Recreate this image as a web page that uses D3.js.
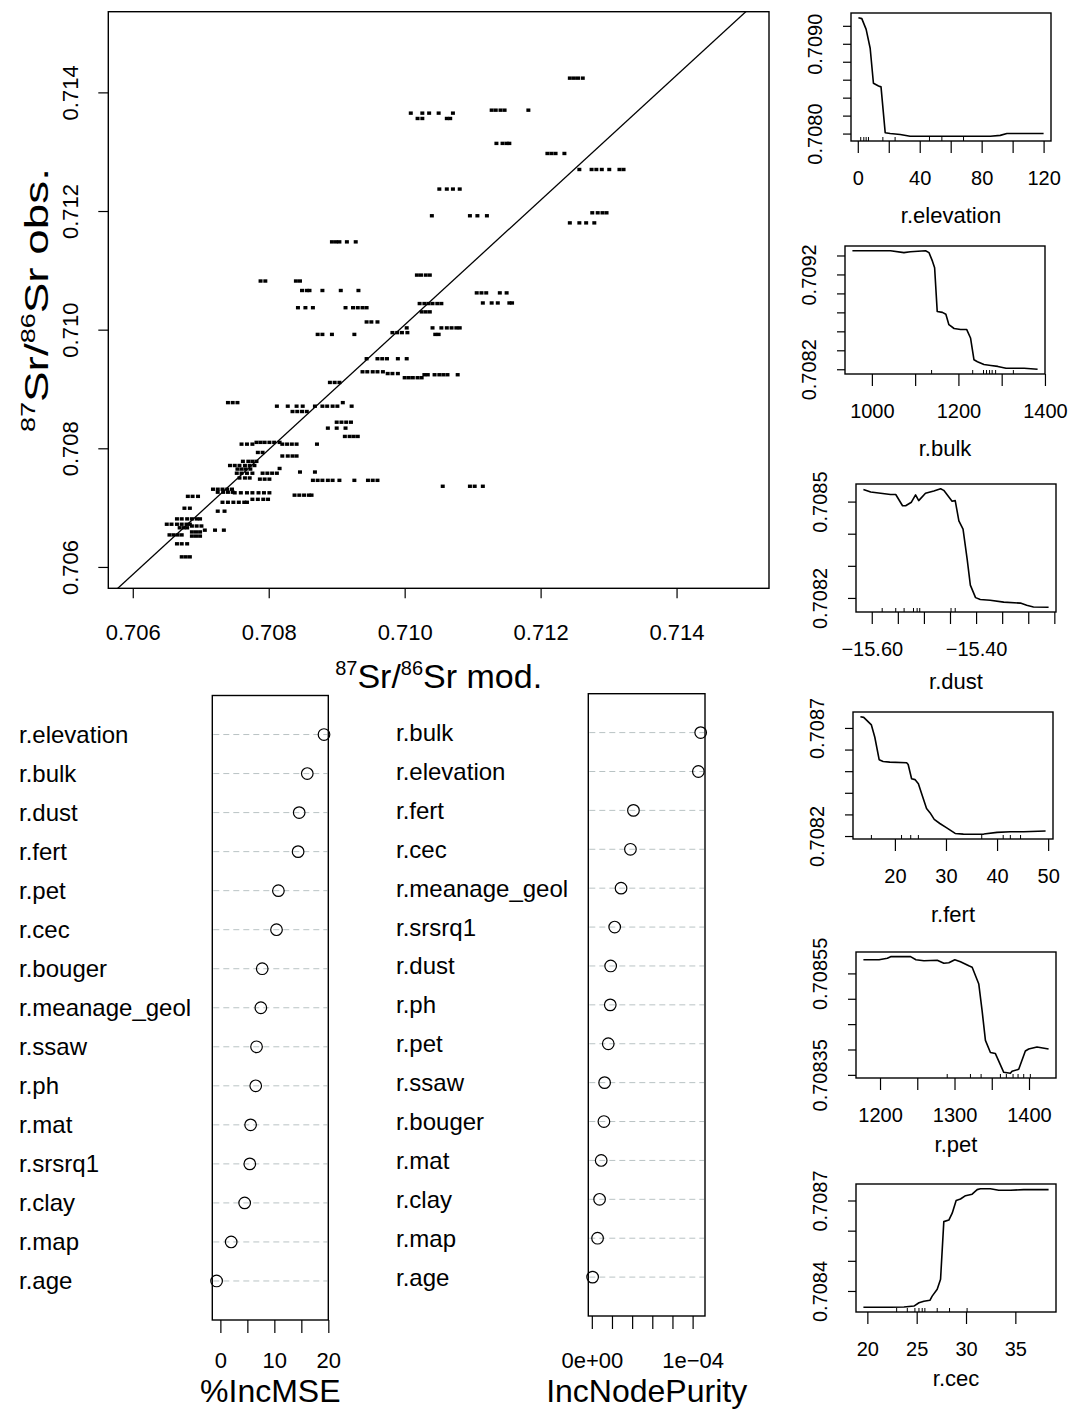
<!DOCTYPE html>
<html>
<head>
<meta charset="utf-8">
<script src="https://cdn.jsdelivr.net/npm/d3@7"></script>
<style>
  body { margin: 0; background: #fff; }
</style>
</head>
<body>
<svg id="chart" width="1068" height="1410"></svg>
<script>
// ---- scatter: observed 87Sr/86Sr and the model predictions for each sample ----
var obsValues = [
  0.71424, 0.71365, 0.71356, 0.71370, 0.71314, 0.71297, 0.71270, 0.71237, 0.71192, 0.71197,
  0.71180, 0.71148, 0.71092, 0.71082, 0.71066, 0.71037, 0.71044, 0.71030, 0.71013, 0.71062,
  0.71045, 0.71003, 0.70992, 0.70992, 0.70995, 0.70951, 0.70929, 0.70926, 0.70919, 0.70924,
  0.70736, 0.70911, 0.70877, 0.70871, 0.70862, 0.70844, 0.70834, 0.70820, 0.70807, 0.70810,
  0.70793, 0.70787, 0.70778, 0.70771, 0.70765, 0.70758, 0.70750, 0.70766, 0.70760, 0.70746,
  0.70748, 0.70721, 0.70731, 0.70726, 0.70725, 0.70714, 0.70709, 0.70719, 0.70694, 0.70699,
  0.70681, 0.70672, 0.70669, 0.70662, 0.70666, 0.70654, 0.70659, 0.70652, 0.70639, 0.70617
];
var modValues = [
  [0.71243, 0.71249, 0.71255, 0.71262],
  [0.71009, 0.71026, 0.71036, 0.71050, 0.71071],
  [0.71019, 0.71026, 0.71062, 0.71067],
  [0.71128, 0.71134, 0.71141, 0.71147, 0.71182],
  [0.71135, 0.71144, 0.71150, 0.71154],
  [0.71210, 0.71216, 0.71222, 0.71235],
  [0.71257, 0.71275, 0.71282, 0.71290, 0.71301, 0.71316, 0.71322],
  [0.71051, 0.71062, 0.71071, 0.71081],
  [0.71040, 0.71096, 0.71107, 0.71121],
  [0.71276, 0.71284, 0.71291, 0.71297],
  [0.71243, 0.71257, 0.71267, 0.71279],
  [0.70893, 0.70899, 0.70904, 0.70915, 0.70928],
  [0.71018, 0.71024, 0.71031, 0.71037],
  [0.70788, 0.70795, 0.70840, 0.70846],
  [0.70849, 0.70856, 0.70860, 0.70879, 0.70906, 0.70932],
  [0.70843, 0.70854, 0.70865, 0.70913, 0.70924, 0.70931, 0.70938, 0.70944],
  [0.71022, 0.71029, 0.71035, 0.71041, 0.71048, 0.71054],
  [0.71025, 0.71031, 0.71037],
  [0.70944, 0.70951, 0.70960],
  [0.71106, 0.71113, 0.71120, 0.71140, 0.71150],
  [0.71115, 0.71128, 0.71137, 0.71154, 0.71158],
  [0.71003, 0.71041, 0.71054, 0.71062, 0.71069, 0.71076, 0.71081],
  [0.71045, 0.71050],
  [0.70872, 0.70879, 0.70893, 0.70926],
  [0.70982, 0.70989, 0.70996, 0.71004],
  [0.70944, 0.70960, 0.70967, 0.70974, 0.70990, 0.71003],
  [0.70938, 0.70945, 0.70953, 0.70960, 0.70968],
  [0.70975, 0.70982, 0.70990],
  [0.71000, 0.71006, 0.71012, 0.71019, 0.71025],
  [0.71029, 0.71034, 0.71044, 0.71051, 0.71057, 0.71063, 0.71078],
  [0.71056, 0.71096, 0.71103, 0.71115],
  [0.70890, 0.70897, 0.70904],
  [0.70740, 0.70747, 0.70754, 0.70909],
  [0.70812, 0.70828, 0.70841, 0.70850, 0.70868, 0.70879, 0.70886, 0.70894, 0.70901, 0.70922],
  [0.70835, 0.70842, 0.70849, 0.70856],
  [0.70900, 0.70907, 0.70914, 0.70921],
  [0.70887, 0.70900, 0.70913],
  [0.70912, 0.70919, 0.70925, 0.70931],
  [0.70760, 0.70768, 0.70776, 0.70820, 0.70827, 0.70834, 0.70841, 0.70871],
  [0.70782, 0.70788, 0.70794, 0.70801, 0.70808, 0.70816],
  [0.70784, 0.70791],
  [0.70820, 0.70828, 0.70835, 0.70841],
  [0.70762, 0.70770, 0.70776, 0.70782],
  [0.70743, 0.70750, 0.70757, 0.70765, 0.70772, 0.70779],
  [0.70754, 0.70760, 0.70766, 0.70773],
  [0.70753, 0.70760, 0.70768, 0.70776, 0.70791, 0.70798, 0.70805, 0.70812],
  [0.70757, 0.70765, 0.70772],
  [0.70816],
  [0.70846, 0.70868],
  [0.70865, 0.70872, 0.70879, 0.70887, 0.70894, 0.70904, 0.70926, 0.70946, 0.70953, 0.70960],
  [0.70787, 0.70794, 0.70801],
  [0.70838, 0.70845, 0.70852, 0.70859, 0.70863],
  [0.70718, 0.70725, 0.70732, 0.70739, 0.70746],
  [0.70725, 0.70733, 0.70740, 0.70747],
  [0.70750, 0.70759, 0.70768, 0.70776, 0.70785, 0.70793, 0.70801],
  [0.70776, 0.70784, 0.70792, 0.70799],
  [0.70732, 0.70740, 0.70748, 0.70756, 0.70764, 0.70768],
  [0.70681, 0.70688, 0.70696],
  [0.70725, 0.70735],
  [0.70676, 0.70684],
  [0.70665, 0.70672, 0.70680, 0.70687, 0.70694, 0.70699],
  [0.70650, 0.70657, 0.70665, 0.70672, 0.70679, 0.70684],
  [0.70687, 0.70694, 0.70701],
  [0.70706, 0.70721, 0.70734],
  [0.70669, 0.70675, 0.70680],
  [0.70654, 0.70660, 0.70666, 0.70672],
  [0.70687, 0.70693, 0.70699],
  [0.70687, 0.70693, 0.70699],
  [0.70665, 0.70672, 0.70680],
  [0.70672, 0.70678, 0.70684]
];
var scatterLim = [0.706, 0.715];
var scatterTicks = [0.706, 0.708, 0.710, 0.712, 0.714];
var fitSlope = 1.052, fitIntercept = -0.03684;

// ---- variable importance ----
var mseVars = ["r.elevation", "r.bulk", "r.dust", "r.fert", "r.pet", "r.cec", "r.bouger",
  "r.meanage_geol", "r.ssaw", "r.ph", "r.mat", "r.srsrq1", "r.clay", "r.map", "r.age"];
var mseValues = [19.2, 16.1, 14.6, 14.4, 10.75, 10.4, 7.75, 7.5, 6.7, 6.55, 5.6, 5.45, 4.5, 2.0, -0.7];
var mseTicks = [0, 5, 10, 15, 20];
var mseTickLabels = ["0", "", "10", "", "20"];

var purityVars = ["r.bulk", "r.elevation", "r.fert", "r.cec", "r.meanage_geol", "r.srsrq1", "r.dust",
  "r.ph", "r.pet", "r.ssaw", "r.bouger", "r.mat", "r.clay", "r.map", "r.age"];
var purityValues = [1.08e-4, 1.057e-4, 4.13e-5, 3.83e-5, 2.9e-5, 2.27e-5, 1.87e-5, 1.83e-5, 1.63e-5,
  1.27e-5, 1.2e-5, 9.3e-6, 7.7e-6, 5.7e-6, 0.8e-6];
var purityTicks = [0, 2e-5, 4e-5, 6e-5, 8e-5, 1e-4];
var purityTickLabels = ["0e+00", "", "", "", "", "1e\u221204"];

// ---- partial dependence curves ----
var elevationX = [0.4, 2.6, 5.4, 8, 10.1, 13.4, 15, 17.7, 20.9, 27.4, 33.8, 42.5, 64, 85.6, 92, 96.3, 107, 120];
var elevationY = [0.70929, 0.70928, 0.70916, 0.70895, 0.70856, 0.70853, 0.70852, 0.70801, 0.70800, 0.70799,
  0.70797, 0.70797, 0.70797, 0.70797, 0.70798, 0.70800, 0.70800, 0.70800];
var elevationRug = [1.9, 3.9, 5.4, 6.9, 16.2, 24.1, 46.3, 54.3, 68.3];
var elevationXTicks = [0, 20, 40, 60, 80, 100, 120];
var elevationXLabels = ["0", "", "40", "", "80", "", "120"];
var elevationYTicks = [0.7080, 0.7082, 0.7084, 0.7086, 0.7088, 0.7090, 0.7092];
var elevationYLabels = ["0.7080", "", "", "", "", "0.7090", ""];

var bulkX = [955, 1043, 1074, 1089, 1124, 1132, 1140, 1145, 1151, 1163, 1171, 1178, 1190, 1205, 1219, 1228,
  1236, 1244, 1259, 1275, 1291, 1310, 1352, 1383];
var bulkY = [0.70945, 0.70945, 0.70943, 0.70944, 0.70945, 0.70943, 0.70934, 0.70927, 0.70881, 0.70880, 0.70878,
  0.70867, 0.70863, 0.70862, 0.70862, 0.70853, 0.70830, 0.70828, 0.70825, 0.70824, 0.70823, 0.70821, 0.70821, 0.70820];
var bulkRug = [1138, 1233, 1258, 1265, 1272, 1278, 1286, 1327];
var bulkXTicks = [1000, 1100, 1200, 1300, 1400];
var bulkXLabels = ["1000", "", "1200", "", "1400"];
var bulkYTicks = [0.7082, 0.7084, 0.7086, 0.7088, 0.7090, 0.7092, 0.7094];
var bulkYLabels = ["0.7082", "", "", "", "", "0.7092", ""];

var dustX = [-15.616, -15.602, -15.583, -15.564, -15.554, -15.541, -15.535, -15.524, -15.516, -15.510, -15.497,
  -15.481, -15.468, -15.462, -15.446, -15.440, -15.433, -15.425, -15.417, -15.411, -15.401, -15.392, -15.373,
  -15.347, -15.315, -15.303, -15.290, -15.261];
var dustY = [0.708538, 0.708530, 0.708526, 0.708522, 0.708522, 0.708487, 0.708487, 0.708498, 0.708521, 0.708503,
  0.708526, 0.708533, 0.708540, 0.708535, 0.708501, 0.708503, 0.708440, 0.708414, 0.708319, 0.708240, 0.708201,
  0.708195, 0.708193, 0.708187, 0.708184, 0.708177, 0.708172, 0.708171];
var dustRug = [-15.58, -15.554, -15.538, -15.52, -15.513, -15.508, -15.448, -15.44];
var dustXTicks = [-15.60, -15.55, -15.50, -15.45, -15.40, -15.35, -15.30, -15.25];
var dustXLabels = ["\u221215.60", "", "", "", "\u221215.40", "", "", ""];
var dustYTicks = [0.7082, 0.7083, 0.7084, 0.7085];
var dustYLabels = ["0.7082", "", "", "0.7085"];

var fertX = [13.25, 13.9, 15.4, 16.07, 16.92, 17.7, 19.0, 22.3, 22.6, 23.27, 23.93, 24.6, 25.24, 26.2, 26.9,
  27.7, 28.8, 30.15, 31.8, 33.4, 35.7, 37.4, 40.0, 42.6, 45.2, 49.5];
var fertY = [0.708752, 0.708749, 0.708714, 0.708657, 0.708553, 0.708545, 0.708542, 0.708539, 0.708531, 0.708465,
  0.708461, 0.708442, 0.708396, 0.708327, 0.708307, 0.708277, 0.708258, 0.708238, 0.708212, 0.708209, 0.708208,
  0.708209, 0.708217, 0.708220, 0.708220, 0.708223];
var fertRug = [15.4, 21.3, 23.1, 24.6, 37.0, 41.2, 42.6, 44.6];
var fertXTicks = [20, 30, 40, 50];
var fertXLabels = ["20", "30", "40", "50"];
var fertYTicks = [0.7082, 0.7083, 0.7084, 0.7085, 0.7086, 0.7087];
var fertYLabels = ["0.7082", "", "", "", "", "0.7087"];

var petX = [1177.7, 1198.7, 1209.8, 1214.3, 1241, 1248.2, 1258.9, 1276.8, 1285.7, 1292.4, 1300.4, 1308, 1319.2,
  1323.7, 1332.6, 1337, 1341.5, 1348.2, 1354.9, 1366.1, 1375, 1377.2, 1386.2, 1395.1, 1399.6, 1410.7, 1426.3];
var petY = [0.708577, 0.708577, 0.708580, 0.708583, 0.708583, 0.708577, 0.708575, 0.708576, 0.708570, 0.708571,
  0.708577, 0.708573, 0.708565, 0.708562, 0.708529, 0.708477, 0.708418, 0.708394, 0.708392, 0.708355, 0.708353,
  0.708357, 0.708361, 0.708397, 0.708401, 0.708405, 0.708401];
var petRug = [1290.2, 1321.4, 1335.7, 1361.6, 1369.6, 1378.6, 1385.3, 1392.9, 1401.8];
var petXTicks = [1200, 1250, 1300, 1350, 1400];
var petXLabels = ["1200", "", "1300", "", "1400"];
var petYTicks = [0.70835, 0.70840, 0.70845, 0.70850, 0.70855];
var petYLabels = ["0.70835", "", "", "", "0.70855"];

var cecX = [19.6, 22.36, 23.71, 24.72, 25.23, 25.73, 26.34, 26.57, 27.08, 27.42, 27.75, 28.26, 28.6, 29.0, 29.44,
  29.95, 30.62, 31.13, 31.46, 32.47, 33.32, 34.5, 35.85, 38.37];
var cecY = [0.708346, 0.708346, 0.708347, 0.708350, 0.708361, 0.708366, 0.708369, 0.708383, 0.708406, 0.708439,
  0.708630, 0.708635, 0.708658, 0.708700, 0.708705, 0.708716, 0.708721, 0.708736, 0.708739, 0.708739, 0.708734,
  0.708734, 0.708736, 0.708736];
var cecRug = [22.97, 24.05, 24.82, 25.23, 25.56, 25.83, 27.08, 28.33, 30.11];
var cecXTicks = [20, 25, 30, 35];
var cecXLabels = ["20", "25", "30", "35"];
var cecYTicks = [0.7084, 0.7085, 0.7086, 0.7087];
var cecYLabels = ["0.7084", "", "", "0.7087"];

var FONT = '"Liberation Sans", Arial, Helvetica, sans-serif';
var svg = d3.select("#chart");

// R style axis range: data range widened by 4% each side
function pad(ext) {
  var d = (ext[1] - ext[0]) * 0.04;
  return [ext[0] - d, ext[1] + d];
}

function bottomAxis(g, scale, ticks, labels, y0, tickLen, labelY, size) {
  var a = g.append("g").attr("transform", "translate(0," + y0 + ")")
    .call(d3.axisBottom(scale).tickValues(ticks).tickSize(tickLen).tickSizeOuter(0)
      .tickFormat(function(d, i) { return labels[i]; }));
  a.attr("font-family", FONT).attr("font-size", size);
  a.select(".domain").remove();
  a.selectAll("line").attr("stroke-width", 1.2);
  a.selectAll("text").attr("y", labelY).attr("dy", null).attr("fill", "#000");
  return a;
}

function leftAxis(g, scale, ticks, labels, x0, tickLen, labelOff, size) {
  var a = g.append("g").attr("transform", "translate(" + x0 + ",0)")
    .call(d3.axisLeft(scale).tickValues(ticks).tickSize(tickLen).tickSizeOuter(0)
      .tickFormat(function(d, i) { return labels[i]; }));
  a.attr("font-family", FONT).attr("font-size", size);
  a.select(".domain").remove();
  a.selectAll("line").attr("stroke-width", 1.2);
  a.selectAll("text").attr("x", 0).attr("y", -labelOff).attr("dy", null)
    .attr("text-anchor", "middle").attr("transform", "rotate(-90)").attr("fill", "#000");
  return a;
}

// ---------------- main scatter ----------------
var sc = { left: 108.3, right: 769, top: 11.7, bottom: 588.3 };
var sx = d3.scaleLinear().domain(pad(scatterLim)).range([sc.left, sc.right]);
var sy = d3.scaleLinear().domain(pad(scatterLim)).range([sc.bottom, sc.top]);

svg.append("clipPath").attr("id", "scClip").append("rect")
  .attr("x", sc.left).attr("y", sc.top).attr("width", sc.right - sc.left).attr("height", sc.bottom - sc.top);

var pts = [];
obsValues.forEach(function(o, i) {
  modValues[i].forEach(function(m) { pts.push({ mod: m, obs: o }); });
});

var scG = svg.append("g");
scG.selectAll("rect.pt").data(pts).enter().append("rect")
  .attr("class", "pt")
  .attr("x", function(d) { return sx(d.mod) - 2; })
  .attr("y", function(d) { return sy(d.obs) - 1.7; })
  .attr("width", 4).attr("height", 3.4)
  .attr("fill", "#000");

var fitX = sx.domain();
scG.append("line").attr("clip-path", "url(#scClip)")
  .attr("x1", sx(fitX[0])).attr("y1", sy(fitIntercept + fitSlope * fitX[0]))
  .attr("x2", sx(fitX[1])).attr("y2", sy(fitIntercept + fitSlope * fitX[1]))
  .attr("stroke", "#000").attr("stroke-width", 1.3);

scG.append("rect").attr("x", sc.left).attr("y", sc.top)
  .attr("width", sc.right - sc.left).attr("height", sc.bottom - sc.top)
  .attr("fill", "none").attr("stroke", "#000").attr("stroke-width", 1.4);

var fmt3 = d3.format(".3f");
var scLabels = scatterTicks.map(fmt3);
bottomAxis(scG, sx, scatterTicks, scLabels, sc.bottom, 10, 52, 22);
leftAxis(scG, sy, scatterTicks, scLabels, sc.left, 10, 30, 22);

// 87Sr/86Sr axis title; stretch widens the text along its own length
function isoLabel(g, x, y, rotate, tail, stretch) {
  var t = g.append("text")
    .attr("transform", "translate(" + x + "," + y + ")" + (rotate ? " rotate(-90)" : "") +
      " scale(" + stretch + ",1)")
    .attr("text-anchor", "middle").attr("font-family", FONT).attr("font-size", 34).attr("fill", "#000");
  t.append("tspan").attr("font-size", 20).attr("dy", -13).text("87");
  t.append("tspan").attr("dy", 13).text("Sr/");
  t.append("tspan").attr("font-size", 20).attr("dy", -13).text("86");
  t.append("tspan").attr("dy", 13).text("Sr " + tail);
}
isoLabel(scG, (sc.left + sc.right) / 2, 688, false, "mod.", 1);
isoLabel(scG, 48, (sc.top + sc.bottom) / 2, true, "obs.", 1.35);

// ---------------- dot charts ----------------
function dotChart(vars, vals, box, labelX, ticks, tickLabels, title) {
  var g = svg.append("g");
  var n = vars.length;
  var x = d3.scaleLinear().domain(pad(d3.extent(vals))).range([box.left, box.right]);
  var y = d3.scaleLinear().domain([0, n + 1]).range([box.bottom, box.top]);
  var rows = vars.map(function(v, i) { return { name: v, val: vals[i], pos: n - i }; });

  g.selectAll("line.guide").data(rows).enter().append("line")
    .attr("x1", box.left + 1).attr("x2", box.right - 1)
    .attr("y1", function(d) { return y(d.pos); }).attr("y2", function(d) { return y(d.pos); })
    .attr("stroke", "#b9c3c4").attr("stroke-width", 1).attr("stroke-dasharray", "6,4");

  g.selectAll("circle").data(rows).enter().append("circle")
    .attr("cx", function(d) { return x(d.val); }).attr("cy", function(d) { return y(d.pos); })
    .attr("r", 5.8).attr("fill", "none").attr("stroke", "#000").attr("stroke-width", 1.2);

  g.selectAll("text.lab").data(rows).enter().append("text")
    .attr("x", labelX).attr("y", function(d) { return y(d.pos) + 8.5; })
    .attr("font-family", FONT).attr("font-size", 24).attr("fill", "#000")
    .text(function(d) { return d.name; });

  g.append("rect").attr("x", box.left).attr("y", box.top)
    .attr("width", box.right - box.left).attr("height", box.bottom - box.top)
    .attr("fill", "none").attr("stroke", "#000").attr("stroke-width", 1.4);

  bottomAxis(g, x, ticks, tickLabels, box.bottom, 13, 1368 - box.bottom, 22);

  g.append("text").attr("x", (box.left + box.right) / 2).attr("y", 1402)
    .attr("text-anchor", "middle").attr("font-family", FONT).attr("font-size", 32).attr("fill", "#000")
    .text(title);
}

dotChart(mseVars, mseValues, { left: 212.3, right: 328.3, top: 695.5, bottom: 1320 }, 19,
  mseTicks, mseTickLabels, "%IncMSE");
dotChart(purityVars, purityValues, { left: 588.3, right: 705, top: 693.7, bottom: 1316 }, 396,
  purityTicks, purityTickLabels, "IncNodePurity");

// ---------------- partial dependence panels ----------------
var panels = [
  { x: elevationX, y: elevationY, rug: elevationRug, xt: elevationXTicks, xl: elevationXLabels,
    yt: elevationYTicks, yl: elevationYLabels, title: "r.elevation", box: [851, 13, 1051, 141], titleY: 223 },
  { x: bulkX, y: bulkY, rug: bulkRug, xt: bulkXTicks, xl: bulkXLabels,
    yt: bulkYTicks, yl: bulkYLabels, title: "r.bulk", box: [845, 246, 1045, 374], titleY: 456 },
  { x: dustX, y: dustY, rug: dustRug, xt: dustXTicks, xl: dustXLabels,
    yt: dustYTicks, yl: dustYLabels, title: "r.dust", box: [856, 484, 1056, 612], titleY: 689 },
  { x: fertX, y: fertY, rug: fertRug, xt: fertXTicks, xl: fertXLabels,
    yt: fertYTicks, yl: fertYLabels, title: "r.fert", box: [853, 712, 1053, 839], titleY: 922 },
  { x: petX, y: petY, rug: petRug, xt: petXTicks, xl: petXLabels,
    yt: petYTicks, yl: petYLabels, title: "r.pet", box: [856, 952, 1056, 1078], titleY: 1152 },
  { x: cecX, y: cecY, rug: cecRug, xt: cecXTicks, xl: cecXLabels,
    yt: cecYTicks, yl: cecYLabels, title: "r.cec", box: [856, 1184, 1056, 1312], titleY: 1386 }
];

panels.forEach(function(p) {
  var g = svg.append("g");
  var b = p.box;
  var x = d3.scaleLinear().domain(pad(d3.extent(p.x))).range([b[0], b[2]]);
  var y = d3.scaleLinear().domain(pad(d3.extent(p.y))).range([b[3], b[1]]);
  var line = d3.line().x(function(d) { return x(d[0]); }).y(function(d) { return y(d[1]); });

  g.append("path").datum(p.x.map(function(v, i) { return [v, p.y[i]]; }))
    .attr("d", line).attr("fill", "none").attr("stroke", "#000").attr("stroke-width", 1.6)
    .attr("stroke-linejoin", "round");

  g.selectAll("line.rug").data(p.rug).enter().append("line")
    .attr("x1", function(d) { return x(d); }).attr("x2", function(d) { return x(d); })
    .attr("y1", b[3]).attr("y2", b[3] - 4)
    .attr("stroke", "#000").attr("stroke-width", 1);

  g.append("rect").attr("x", b[0]).attr("y", b[1]).attr("width", b[2] - b[0]).attr("height", b[3] - b[1])
    .attr("fill", "none").attr("stroke", "#000").attr("stroke-width", 1.4);

  bottomAxis(g, x, p.xt, p.xl, b[3], 12, 44, 20);
  leftAxis(g, y, p.yt, p.yl, b[0], 8, 29, 20);

  g.append("text").attr("x", (b[0] + b[2]) / 2).attr("y", p.titleY)
    .attr("text-anchor", "middle").attr("font-family", FONT).attr("font-size", 22).attr("fill", "#000")
    .text(p.title);
});
</script>
</body>
</html>
